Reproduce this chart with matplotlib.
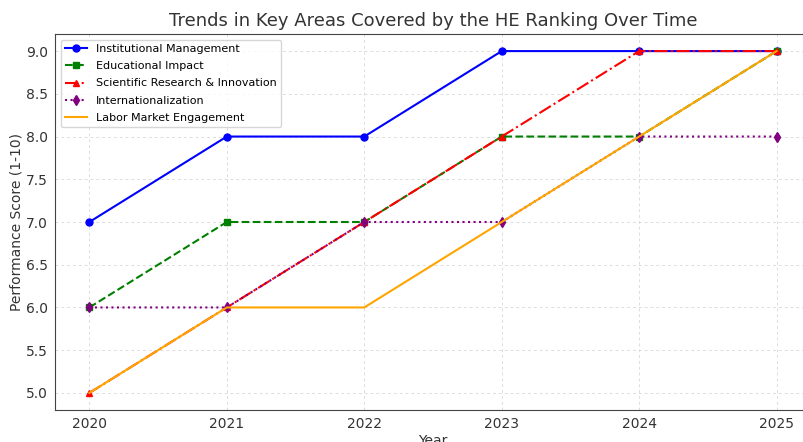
import matplotlib.pyplot as plt

years = [2020, 2021, 2022, 2023, 2024, 2025]
institutional = [7, 8, 8, 9, 9, 9]
educational = [6, 7, 7, 8, 8, 9]
research = [5, 6, 7, 8, 9, 9]
international = [6, 6, 7, 7, 8, 8]
labor = [5, 6, 6, 7, 8, 9]

fig = plt.figure(figsize=(8.04, 4.42), dpi=100)
ax = fig.add_axes([55/804, 32/442, 756/804, 376/442])

ax.plot(years, institutional, marker='o', linestyle='-', color='blue', markersize=5, label='Institutional Management')
ax.plot(years, educational, marker='s', linestyle='--', color='green', markersize=5, label='Educational Impact')
ax.plot(years, research, marker='^', linestyle='-.', color='red', markersize=5, label='Scientific Research & Innovation')
ax.plot(years, international, marker='d', linestyle=':', color='purple', markersize=5, label='Internationalization')
ax.plot(years, labor, linestyle='-', color='orange', label='Labor Market Engagement')

ax.set_title('Trends in Key Areas Covered by the HE Ranking Over Time', fontsize=13, color='#333333')
ax.set_xlabel('Year', fontsize=10, color='#333333', labelpad=2)
ax.set_ylabel('Performance Score (1-10)', fontsize=10, color='#333333', labelpad=2)
ax.set_xticks(years)
ax.tick_params(length=0, pad=5, labelsize=10, labelcolor='#333333')
for s in ax.spines.values():
    s.set_color('#444444')
ax.grid(True, linestyle=(0, (3, 3)), color='#dddddd', linewidth=0.7)
ax.legend(loc='upper left', fontsize=8, labelspacing=0.65)

fig.savefig('out.png', dpi=100)
